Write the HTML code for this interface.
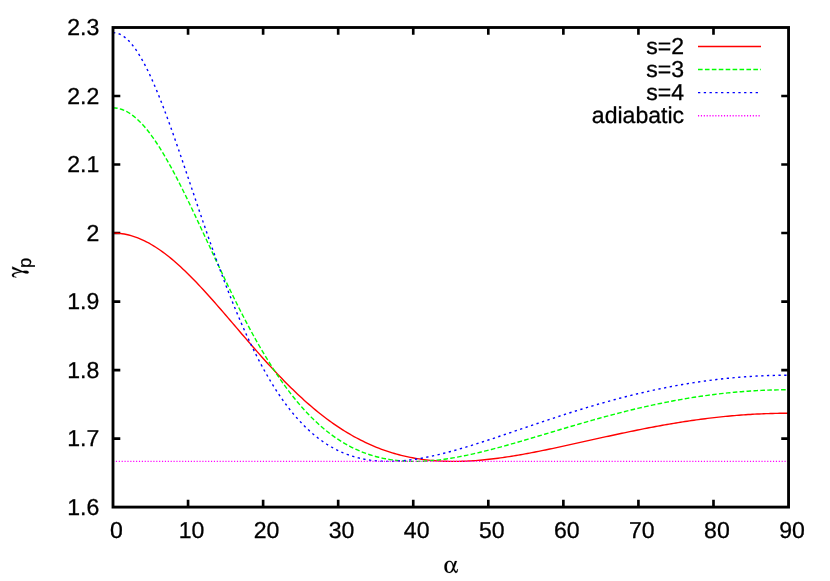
<!DOCTYPE html>
<html><head><meta charset="utf-8"><title>plot</title>
<style>html,body{margin:0;padding:0;background:#fff;}body{width:830px;height:581px;position:relative;overflow:hidden;font-family:"Liberation Sans",sans-serif;}</style>
</head><body>
<svg width="830" height="581" viewBox="0 0 830 581" style="position:absolute;left:0;top:0;will-change:transform">
<rect x="0" y="0" width="830" height="581" fill="#fff"/>
<path d="M188.06,507.10 v-7.30 M188.06,27.50 v7.30 M263.12,507.10 v-7.30 M263.12,27.50 v7.30 M338.18,507.10 v-7.30 M338.18,27.50 v7.30 M413.24,507.10 v-7.30 M413.24,27.50 v7.30 M488.31,507.10 v-7.30 M488.31,27.50 v7.30 M563.37,507.10 v-7.30 M563.37,27.50 v7.30 M638.43,507.10 v-7.30 M638.43,27.50 v7.30 M713.49,507.10 v-7.30 M713.49,27.50 v7.30 M113.00,438.59 h7.30 M788.55,438.59 h-7.30 M113.00,370.07 h7.30 M788.55,370.07 h-7.30 M113.00,301.56 h7.30 M788.55,301.56 h-7.30 M113.00,233.04 h7.30 M788.55,233.04 h-7.30 M113.00,164.53 h7.30 M788.55,164.53 h-7.30 M113.00,96.01 h7.30 M788.55,96.01 h-7.30" stroke="#000" stroke-width="2.65" fill="none"/>
<path d="M113.00,233.04 L115.25,233.08 L117.50,233.21 L119.76,233.41 L122.01,233.69 L124.26,234.06 L126.51,234.50 L128.76,235.03 L131.01,235.63 L133.27,236.31 L135.52,237.07 L137.77,237.91 L140.02,238.82 L142.27,239.81 L144.53,240.87 L146.78,242.00 L149.03,243.21 L151.28,244.49 L153.53,245.83 L155.78,247.25 L158.04,248.72 L160.29,250.27 L162.54,251.88 L164.79,253.54 L167.04,255.27 L169.30,257.06 L171.55,258.90 L173.80,260.80 L176.05,262.75 L178.30,264.75 L180.56,266.80 L182.81,268.90 L185.06,271.04 L187.31,273.23 L189.56,275.45 L191.81,277.72 L194.07,280.02 L196.32,282.36 L198.57,284.73 L200.82,287.13 L203.07,289.56 L205.33,292.02 L207.58,294.50 L209.83,297.01 L212.08,299.53 L214.33,302.08 L216.58,304.64 L218.84,307.22 L221.09,309.81 L223.34,312.41 L225.59,315.03 L227.84,317.65 L230.10,320.27 L232.35,322.90 L234.60,325.53 L236.85,328.16 L239.10,330.79 L241.35,333.42 L243.61,336.04 L245.86,338.66 L248.11,341.27 L250.36,343.87 L252.61,346.46 L254.87,349.04 L257.12,351.61 L259.37,354.16 L261.62,356.69 L263.87,359.21 L266.12,361.70 L268.38,364.18 L270.63,366.64 L272.88,369.08 L275.13,371.49 L277.38,373.88 L279.64,376.25 L281.89,378.59 L284.14,380.90 L286.39,383.18 L288.64,385.44 L290.89,387.67 L293.15,389.87 L295.40,392.04 L297.65,394.18 L299.90,396.28 L302.15,398.36 L304.41,400.40 L306.66,402.41 L308.91,404.38 L311.16,406.33 L313.41,408.23 L315.66,410.11 L317.92,411.95 L320.17,413.75 L322.42,415.52 L324.67,417.25 L326.92,418.95 L329.18,420.61 L331.43,422.24 L333.68,423.83 L335.93,425.38 L338.18,426.90 L340.44,428.38 L342.69,429.83 L344.94,431.24 L347.19,432.61 L349.44,433.95 L351.69,435.26 L353.95,436.52 L356.20,437.75 L358.45,438.95 L360.70,440.11 L362.95,441.24 L365.21,442.33 L367.46,443.39 L369.71,444.41 L371.96,445.40 L374.21,446.36 L376.46,447.28 L378.72,448.17 L380.97,449.03 L383.22,449.85 L385.47,450.64 L387.72,451.41 L389.98,452.13 L392.23,452.83 L394.48,453.50 L396.73,454.14 L398.98,454.74 L401.23,455.32 L403.49,455.87 L405.74,456.39 L407.99,456.88 L410.24,457.35 L412.49,457.78 L414.75,458.19 L417.00,458.58 L419.25,458.93 L421.50,459.26 L423.75,459.57 L426.00,459.85 L428.26,460.10 L430.51,460.33 L432.76,460.54 L435.01,460.73 L437.26,460.89 L439.52,461.03 L441.77,461.15 L444.02,461.24 L446.27,461.32 L448.52,461.37 L450.77,461.41 L453.03,461.42 L455.28,461.42 L457.53,461.40 L459.78,461.35 L462.03,461.29 L464.29,461.22 L466.54,461.12 L468.79,461.01 L471.04,460.88 L473.29,460.74 L475.55,460.58 L477.80,460.40 L480.05,460.21 L482.30,460.01 L484.55,459.79 L486.80,459.56 L489.06,459.32 L491.31,459.06 L493.56,458.79 L495.81,458.51 L498.06,458.22 L500.32,457.91 L502.57,457.60 L504.82,457.27 L507.07,456.93 L509.32,456.59 L511.57,456.23 L513.83,455.87 L516.08,455.49 L518.33,455.11 L520.58,454.72 L522.83,454.32 L525.09,453.91 L527.34,453.50 L529.59,453.08 L531.84,452.66 L534.09,452.22 L536.34,451.78 L538.60,451.34 L540.85,450.89 L543.10,450.43 L545.35,449.97 L547.60,449.51 L549.86,449.04 L552.11,448.57 L554.36,448.09 L556.61,447.61 L558.86,447.13 L561.11,446.65 L563.37,446.16 L565.62,445.67 L567.87,445.18 L570.12,444.68 L572.37,444.18 L574.63,443.69 L576.88,443.19 L579.13,442.69 L581.38,442.19 L583.63,441.69 L585.88,441.19 L588.14,440.68 L590.39,440.18 L592.64,439.68 L594.89,439.18 L597.14,438.68 L599.40,438.18 L601.65,437.69 L603.90,437.19 L606.15,436.69 L608.40,436.20 L610.66,435.71 L612.91,435.22 L615.16,434.73 L617.41,434.25 L619.66,433.77 L621.91,433.29 L624.17,432.81 L626.42,432.34 L628.67,431.87 L630.92,431.40 L633.17,430.94 L635.43,430.48 L637.68,430.02 L639.93,429.57 L642.18,429.12 L644.43,428.68 L646.68,428.24 L648.94,427.80 L651.19,427.37 L653.44,426.95 L655.69,426.52 L657.94,426.11 L660.20,425.70 L662.45,425.29 L664.70,424.89 L666.95,424.49 L669.20,424.10 L671.45,423.72 L673.71,423.34 L675.96,422.97 L678.21,422.60 L680.46,422.24 L682.71,421.89 L684.97,421.54 L687.22,421.20 L689.47,420.86 L691.72,420.53 L693.97,420.21 L696.22,419.89 L698.48,419.58 L700.73,419.28 L702.98,418.98 L705.23,418.69 L707.48,418.41 L709.74,418.13 L711.99,417.86 L714.24,417.60 L716.49,417.35 L718.74,417.10 L721.00,416.86 L723.25,416.63 L725.50,416.40 L727.75,416.18 L730.00,415.97 L732.25,415.77 L734.51,415.58 L736.76,415.39 L739.01,415.21 L741.26,415.04 L743.51,414.87 L745.77,414.72 L748.02,414.57 L750.27,414.43 L752.52,414.29 L754.77,414.17 L757.02,414.05 L759.28,413.94 L761.53,413.84 L763.78,413.75 L766.03,413.66 L768.28,413.59 L770.54,413.52 L772.79,413.46 L775.04,413.41 L777.29,413.36 L779.54,413.32 L781.79,413.30 L784.05,413.28 L786.30,413.26 L788.55,413.26" fill="none" stroke="#ff0000" stroke-width="1.4"/>
<path d="M113.00,107.90 L115.25,108.00 L117.50,108.29 L119.76,108.79 L122.01,109.48 L124.26,110.37 L126.51,111.46 L128.76,112.73 L131.01,114.19 L133.27,115.84 L135.52,117.68 L137.77,119.69 L140.02,121.88 L142.27,124.24 L144.53,126.77 L146.78,129.45 L149.03,132.30 L151.28,135.30 L153.53,138.44 L155.78,141.73 L158.04,145.15 L160.29,148.70 L162.54,152.38 L164.79,156.17 L167.04,160.07 L169.30,164.08 L171.55,168.18 L173.80,172.38 L176.05,176.66 L178.30,181.03 L180.56,185.46 L182.81,189.96 L185.06,194.53 L187.31,199.15 L189.56,203.82 L191.81,208.53 L194.07,213.27 L196.32,218.05 L198.57,222.86 L200.82,227.68 L203.07,232.52 L205.33,237.37 L207.58,242.22 L209.83,247.07 L212.08,251.92 L214.33,256.76 L216.58,261.58 L218.84,266.39 L221.09,271.17 L223.34,275.93 L225.59,280.66 L227.84,285.36 L230.10,290.01 L232.35,294.63 L234.60,299.21 L236.85,303.74 L239.10,308.22 L241.35,312.65 L243.61,317.03 L245.86,321.35 L248.11,325.61 L250.36,329.82 L252.61,333.96 L254.87,338.04 L257.12,342.06 L259.37,346.01 L261.62,349.89 L263.87,353.70 L266.12,357.45 L268.38,361.12 L270.63,364.72 L272.88,368.26 L275.13,371.72 L277.38,375.10 L279.64,378.42 L281.89,381.66 L284.14,384.82 L286.39,387.92 L288.64,390.94 L290.89,393.88 L293.15,396.75 L295.40,399.55 L297.65,402.28 L299.90,404.93 L302.15,407.51 L304.41,410.02 L306.66,412.46 L308.91,414.82 L311.16,417.12 L313.41,419.35 L315.66,421.50 L317.92,423.59 L320.17,425.61 L322.42,427.57 L324.67,429.46 L326.92,431.28 L329.18,433.04 L331.43,434.73 L333.68,436.36 L335.93,437.94 L338.18,439.44 L340.44,440.89 L342.69,442.28 L344.94,443.62 L347.19,444.89 L349.44,446.11 L351.69,447.27 L353.95,448.38 L356.20,449.44 L358.45,450.44 L360.70,451.40 L362.95,452.30 L365.21,453.15 L367.46,453.96 L369.71,454.72 L371.96,455.43 L374.21,456.10 L376.46,456.72 L378.72,457.30 L380.97,457.83 L383.22,458.33 L385.47,458.78 L387.72,459.20 L389.98,459.58 L392.23,459.91 L394.48,460.22 L396.73,460.48 L398.98,460.71 L401.23,460.91 L403.49,461.07 L405.74,461.21 L407.99,461.31 L410.24,461.37 L412.49,461.41 L414.75,461.42 L417.00,461.41 L419.25,461.36 L421.50,461.29 L423.75,461.19 L426.00,461.07 L428.26,460.92 L430.51,460.75 L432.76,460.55 L435.01,460.33 L437.26,460.09 L439.52,459.83 L441.77,459.55 L444.02,459.26 L446.27,458.94 L448.52,458.60 L450.77,458.25 L453.03,457.87 L455.28,457.49 L457.53,457.08 L459.78,456.66 L462.03,456.23 L464.29,455.78 L466.54,455.32 L468.79,454.84 L471.04,454.35 L473.29,453.85 L475.55,453.34 L477.80,452.82 L480.05,452.29 L482.30,451.74 L484.55,451.19 L486.80,450.63 L489.06,450.05 L491.31,449.47 L493.56,448.89 L495.81,448.29 L498.06,447.69 L500.32,447.08 L502.57,446.46 L504.82,445.84 L507.07,445.21 L509.32,444.58 L511.57,443.94 L513.83,443.30 L516.08,442.65 L518.33,442.00 L520.58,441.35 L522.83,440.69 L525.09,440.03 L527.34,439.37 L529.59,438.70 L531.84,438.04 L534.09,437.37 L536.34,436.70 L538.60,436.02 L540.85,435.35 L543.10,434.68 L545.35,434.00 L547.60,433.33 L549.86,432.66 L552.11,431.98 L554.36,431.31 L556.61,430.64 L558.86,429.97 L561.11,429.29 L563.37,428.63 L565.62,427.96 L567.87,427.29 L570.12,426.63 L572.37,425.97 L574.63,425.31 L576.88,424.65 L579.13,424.00 L581.38,423.35 L583.63,422.70 L585.88,422.05 L588.14,421.41 L590.39,420.77 L592.64,420.14 L594.89,419.51 L597.14,418.88 L599.40,418.26 L601.65,417.64 L603.90,417.03 L606.15,416.42 L608.40,415.82 L610.66,415.22 L612.91,414.62 L615.16,414.03 L617.41,413.45 L619.66,412.87 L621.91,412.29 L624.17,411.73 L626.42,411.16 L628.67,410.61 L630.92,410.05 L633.17,409.51 L635.43,408.97 L637.68,408.44 L639.93,407.91 L642.18,407.39 L644.43,406.87 L646.68,406.37 L648.94,405.86 L651.19,405.37 L653.44,404.88 L655.69,404.40 L657.94,403.92 L660.20,403.46 L662.45,403.00 L664.70,402.54 L666.95,402.10 L669.20,401.66 L671.45,401.22 L673.71,400.80 L675.96,400.38 L678.21,399.97 L680.46,399.57 L682.71,399.17 L684.97,398.79 L687.22,398.41 L689.47,398.03 L691.72,397.67 L693.97,397.31 L696.22,396.96 L698.48,396.62 L700.73,396.29 L702.98,395.96 L705.23,395.65 L707.48,395.34 L709.74,395.03 L711.99,394.74 L714.24,394.46 L716.49,394.18 L718.74,393.91 L721.00,393.65 L723.25,393.40 L725.50,393.15 L727.75,392.92 L730.00,392.69 L732.25,392.47 L734.51,392.26 L736.76,392.06 L739.01,391.87 L741.26,391.68 L743.51,391.50 L745.77,391.34 L748.02,391.18 L750.27,391.03 L752.52,390.88 L754.77,390.75 L757.02,390.62 L759.28,390.51 L761.53,390.40 L763.78,390.30 L766.03,390.21 L768.28,390.13 L770.54,390.05 L772.79,389.99 L775.04,389.93 L777.29,389.88 L779.54,389.84 L781.79,389.81 L784.05,389.79 L786.30,389.78 L788.55,389.77" fill="none" stroke="#00ff00" stroke-width="1.4" stroke-dasharray="4.611 2.306"/>
<path d="M113.00,32.65 L115.25,32.82 L117.50,33.33 L119.76,34.17 L122.01,35.35 L124.26,36.86 L126.51,38.69 L128.76,40.84 L131.01,43.31 L133.27,46.08 L135.52,49.14 L137.77,52.50 L140.02,56.13 L142.27,60.03 L144.53,64.18 L146.78,68.58 L149.03,73.21 L151.28,78.07 L153.53,83.13 L155.78,88.38 L158.04,93.82 L160.29,99.42 L162.54,105.18 L164.79,111.09 L167.04,117.12 L169.30,123.27 L171.55,129.53 L173.80,135.88 L176.05,142.31 L178.30,148.81 L180.56,155.37 L182.81,161.97 L185.06,168.61 L187.31,175.28 L189.56,181.96 L191.81,188.65 L194.07,195.33 L196.32,202.01 L198.57,208.66 L200.82,215.29 L203.07,221.88 L205.33,228.43 L207.58,234.93 L209.83,241.38 L212.08,247.76 L214.33,254.09 L216.58,260.34 L218.84,266.51 L221.09,272.60 L223.34,278.61 L225.59,284.54 L227.84,290.37 L230.10,296.11 L232.35,301.75 L234.60,307.29 L236.85,312.73 L239.10,318.07 L241.35,323.30 L243.61,328.42 L245.86,333.44 L248.11,338.35 L250.36,343.15 L252.61,347.84 L254.87,352.42 L257.12,356.88 L259.37,361.24 L261.62,365.49 L263.87,369.62 L266.12,373.65 L268.38,377.56 L270.63,381.37 L272.88,385.06 L275.13,388.65 L277.38,392.14 L279.64,395.51 L281.89,398.78 L284.14,401.95 L286.39,405.02 L288.64,407.98 L290.89,410.84 L293.15,413.61 L295.40,416.28 L297.65,418.85 L299.90,421.32 L302.15,423.71 L304.41,426.00 L306.66,428.21 L308.91,430.32 L311.16,432.35 L313.41,434.30 L315.66,436.16 L317.92,437.94 L320.17,439.64 L322.42,441.26 L324.67,442.81 L326.92,444.28 L329.18,445.68 L331.43,447.01 L333.68,448.26 L335.93,449.45 L338.18,450.57 L340.44,451.63 L342.69,452.62 L344.94,453.55 L347.19,454.43 L349.44,455.24 L351.69,455.99 L353.95,456.69 L356.20,457.34 L358.45,457.93 L360.70,458.47 L362.95,458.96 L365.21,459.40 L367.46,459.79 L369.71,460.14 L371.96,460.44 L374.21,460.70 L376.46,460.92 L378.72,461.10 L380.97,461.24 L383.22,461.34 L385.47,461.40 L387.72,461.42 L389.98,461.41 L392.23,461.37 L394.48,461.29 L396.73,461.19 L398.98,461.05 L401.23,460.88 L403.49,460.68 L405.74,460.46 L407.99,460.21 L410.24,459.93 L412.49,459.63 L414.75,459.30 L417.00,458.96 L419.25,458.58 L421.50,458.19 L423.75,457.78 L426.00,457.34 L428.26,456.89 L430.51,456.42 L432.76,455.93 L435.01,455.43 L437.26,454.91 L439.52,454.37 L441.77,453.82 L444.02,453.25 L446.27,452.67 L448.52,452.08 L450.77,451.47 L453.03,450.85 L455.28,450.22 L457.53,449.59 L459.78,448.94 L462.03,448.28 L464.29,447.61 L466.54,446.93 L468.79,446.24 L471.04,445.55 L473.29,444.85 L475.55,444.14 L477.80,443.43 L480.05,442.71 L482.30,441.98 L484.55,441.25 L486.80,440.52 L489.06,439.78 L491.31,439.04 L493.56,438.29 L495.81,437.54 L498.06,436.78 L500.32,436.03 L502.57,435.27 L504.82,434.51 L507.07,433.75 L509.32,432.98 L511.57,432.22 L513.83,431.45 L516.08,430.69 L518.33,429.92 L520.58,429.15 L522.83,428.39 L525.09,427.62 L527.34,426.86 L529.59,426.09 L531.84,425.33 L534.09,424.57 L536.34,423.81 L538.60,423.05 L540.85,422.29 L543.10,421.54 L545.35,420.78 L547.60,420.04 L549.86,419.29 L552.11,418.54 L554.36,417.80 L556.61,417.07 L558.86,416.33 L561.11,415.60 L563.37,414.88 L565.62,414.15 L567.87,413.43 L570.12,412.72 L572.37,412.01 L574.63,411.30 L576.88,410.60 L579.13,409.90 L581.38,409.21 L583.63,408.53 L585.88,407.84 L588.14,407.17 L590.39,406.49 L592.64,405.83 L594.89,405.17 L597.14,404.51 L599.40,403.86 L601.65,403.22 L603.90,402.58 L606.15,401.95 L608.40,401.32 L610.66,400.70 L612.91,400.09 L615.16,399.48 L617.41,398.88 L619.66,398.28 L621.91,397.70 L624.17,397.11 L626.42,396.54 L628.67,395.97 L630.92,395.41 L633.17,394.85 L635.43,394.30 L637.68,393.76 L639.93,393.23 L642.18,392.70 L644.43,392.18 L646.68,391.67 L648.94,391.16 L651.19,390.66 L653.44,390.17 L655.69,389.69 L657.94,389.21 L660.20,388.74 L662.45,388.28 L664.70,387.83 L666.95,387.38 L669.20,386.94 L671.45,386.51 L673.71,386.09 L675.96,385.67 L678.21,385.26 L680.46,384.86 L682.71,384.47 L684.97,384.09 L687.22,383.71 L689.47,383.34 L691.72,382.98 L693.97,382.62 L696.22,382.28 L698.48,381.94 L700.73,381.61 L702.98,381.29 L705.23,380.98 L707.48,380.67 L709.74,380.38 L711.99,380.09 L714.24,379.81 L716.49,379.54 L718.74,379.27 L721.00,379.02 L723.25,378.77 L725.50,378.53 L727.75,378.30 L730.00,378.08 L732.25,377.86 L734.51,377.65 L736.76,377.46 L739.01,377.27 L741.26,377.09 L743.51,376.91 L745.77,376.75 L748.02,376.59 L750.27,376.44 L752.52,376.31 L754.77,376.17 L757.02,376.05 L759.28,375.94 L761.53,375.83 L763.78,375.73 L766.03,375.65 L768.28,375.57 L770.54,375.49 L772.79,375.43 L775.04,375.38 L777.29,375.33 L779.54,375.29 L781.79,375.26 L784.05,375.24 L786.30,375.23 L788.55,375.22" fill="none" stroke="#0000ff" stroke-width="1.4" stroke-dasharray="2.306 3.458"/>
<path d="M113.00,461.42 L788.55,461.42" fill="none" stroke="#ff00ff" stroke-width="1.4" stroke-dasharray="1.153 1.729"/>
<path d="M698.0,46.5 L761.0,46.5" stroke="#ff0000" stroke-width="1.4"/>
<path d="M698.0,69.56 L761.0,69.56" stroke="#00ff00" stroke-width="1.4" stroke-dasharray="4.611 2.306"/>
<path d="M698.0,92.62 L761.0,92.62" stroke="#0000ff" stroke-width="1.4" stroke-dasharray="2.306 3.458"/>
<path d="M698.0,115.68 L761.0,115.68" stroke="#ff00ff" stroke-width="1.4" stroke-dasharray="1.153 1.729"/>
<rect x="113.0" y="27.5" width="675.55" height="479.6" fill="none" stroke="#000" stroke-width="2.85"/>
<g font-family="Liberation Sans, sans-serif" font-size="23.06px" fill="#000" stroke="#000" stroke-width="0.3" style="text-rendering:geometricPrecision">
<text x="116.40" y="537.7" text-anchor="middle">0</text>
<text x="191.46" y="537.7" text-anchor="middle">10</text>
<text x="266.52" y="537.7" text-anchor="middle">20</text>
<text x="341.58" y="537.7" text-anchor="middle">30</text>
<text x="416.64" y="537.7" text-anchor="middle">40</text>
<text x="491.71" y="537.7" text-anchor="middle">50</text>
<text x="566.77" y="537.7" text-anchor="middle">60</text>
<text x="641.83" y="537.7" text-anchor="middle">70</text>
<text x="716.89" y="537.7" text-anchor="middle">80</text>
<text x="791.95" y="537.7" text-anchor="middle">90</text>
<text x="99.3" y="514.79" text-anchor="end">1.6</text>
<text x="99.3" y="446.28" text-anchor="end">1.7</text>
<text x="99.3" y="377.76" text-anchor="end">1.8</text>
<text x="99.3" y="309.25" text-anchor="end">1.9</text>
<text x="99.3" y="240.73" text-anchor="end">2</text>
<text x="99.3" y="172.22" text-anchor="end">2.1</text>
<text x="99.3" y="103.70" text-anchor="end">2.2</text>
<text x="99.3" y="35.19" text-anchor="end">2.3</text>
<text x="684.1" y="53.75" text-anchor="end">s=2</text>
<text x="684.1" y="76.81" text-anchor="end">s=3</text>
<text x="684.1" y="99.87" text-anchor="end">s=4</text>
<text x="684.1" y="122.93" text-anchor="end">adiabatic</text>
</g>
<g transform="translate(443.46,572.6) scale(0.02306,-0.02306)"><path d="M496 500 435 328C409 449 348 513 257 513C211 513 162 494 125 462C69 415 41 343 41 244C41 85 120 -13 250 -13C338 -13 403 32 444 121C449 102 456 84 467 59C493 3 510 -13 542 -13C575 -13 598 8 611 50C618 73 621 95 622 151H596C594 100 575 63 550 63C517 63 484 116 472 185L585 500ZM406 241 383 176C348 74 308 25 258 25C227 25 196 45 180 74C158 115 146 178 146 250C146 322 160 383 186 427C204 456 227 470 258 470C329 470 375 413 395 299Z" fill="#000" stroke="#000" stroke-width="8"><title>α</title></path></g>
<g transform="translate(23.75,277.6) rotate(-90)"><g transform="scale(0.02306,-0.02306)"><path d="M377 500 266 156 236 310C206 463 174 513 107 513C77 513 50 499 34 476C12 445 7 420 5 336V323H27C29 350 31 365 35 379C46 411 70 431 99 431C126 431 145 414 164 373C188 321 214 230 224 156L236 73C233 63 222 31 203 -23C183 -78 177 -107 177 -141C177 -188 198 -219 230 -219C271 -219 298 -168 298 -88C298 -57 293 -9 281 66L484 500Z" fill="#000" stroke="#000" stroke-width="8"><title>γ</title></path></g><text x="9.7" y="7.2" font-family="Liberation Sans, sans-serif" font-size="18.45px" fill="#000" stroke="#000" stroke-width="0.25" style="text-rendering:geometricPrecision">p</text></g>
</svg>
</body></html>
